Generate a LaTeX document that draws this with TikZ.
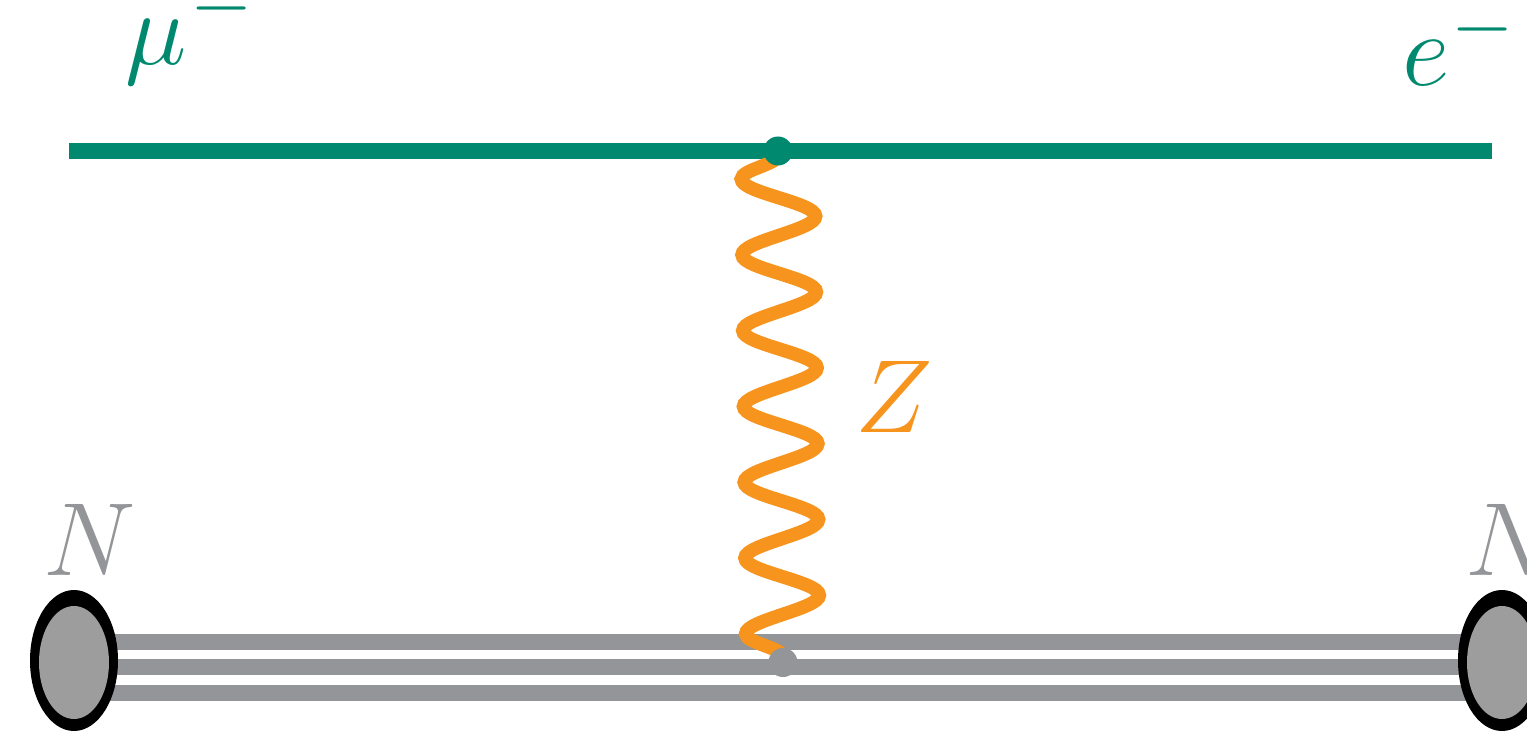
\documentclass[tikz,border=0pt]{standalone}
\usepackage{fix-cm}
\usepackage{graphicx}
\usetikzlibrary{shapes.geometric,decorations.pathmorphing}
\definecolor{lepton}{RGB}{0,137,111}
\definecolor{boson}{RGB}{247,148,29}
\definecolor{nucl}{RGB}{147,149,152}
\definecolor{nuclfill}{RGB}{157,157,157}
\newcommand{\supminus}[1]{\kern#1\raisebox{18.3pt}{\scalebox{0.77}{$-$}}}
\tikzset{
  lab/.style={inner sep=0pt, anchor=base west, font=\fontsize{52}{60}\selectfont},
  leptonline/.style={draw=lepton, line width=8pt},
  bosonline/.style={draw=boson, line width=6.75pt, decorate,
    decoration={snake, segment length=37.9pt, amplitude=18.5pt, mirror, pre length=2pt, pre=lineto}},
  nuclline/.style={draw=nucl, line width=8pt},
  vtx/.style={circle, inner sep=0pt, minimum size=14.5pt},
  blob/.style={ellipse, fill=black, inner sep=0pt, minimum width=44pt, minimum height=70.5pt},
  blobin/.style={fill=nuclfill}
}
\begin{document}
\begin{tikzpicture}[x=0.5pt, y=-0.5pt]
\useasboundingbox (0,0) rectangle (1527,733);
% coordinates
\coordinate (mL) at (69,151);
\coordinate (eR) at (1492,151);
\coordinate (cL) at (74,660.5);
\coordinate (cR) at (1502,660.5);
% nucleus lines
\draw[nuclline] ([yshift=9.5pt]cL) -- ([yshift=9.5pt]cR);
\draw[nuclline] ([yshift=-3.25pt]cL) -- ([yshift=-3.25pt]cR);
\draw[nuclline] ([yshift=-16pt]cL) -- ([yshift=-16pt]cR);
% lepton line
\draw[leptonline] (mL) -- (eR);
% vertices
\node[vtx] (v1) at (778,151) {};
\node[vtx] (v2) at (783,662.5) {};
\draw[bosonline] (v1.center) -- (v2.center);
\fill[lepton] (v1) circle[radius=7.25pt];
\fill[nucl] (v2) circle[radius=7.25pt];
% blobs
\node[blob] (nL) at (cL) {};
\node[blob] (nR) at (cR) {};
\fill[blobin] ([yshift=-1pt]nL.center) ellipse[x radius=35, y radius=56.5];
\fill[blobin] ([yshift=-1pt]nR.center) ellipse[x radius=35, y radius=56.5];
% labels
\node[lab, text=lepton] (lmu) at (125,65) {$\mu$\supminus{1.8pt}};
\node[lab, text=lepton] (le) at (1402,86) {$e$\supminus{0.9pt}};
\node[lab, text=boson] (lZ) at (855,432) {$Z$};
\node[lab, text=nucl] (lN1) at (43,575) {$N$};
\node[lab, text=nucl] (lN2) at (1465,575) {$N$};
\end{tikzpicture}
\end{document}
